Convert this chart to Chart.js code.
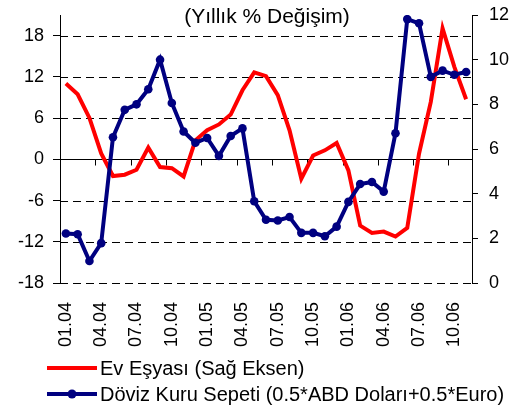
<!DOCTYPE html>
<html>
<head>
<meta charset="utf-8">
<script src="https://cdn.jsdelivr.net/npm/chart.js@4"></script>
<style>
  html, body { margin: 0; padding: 0; background: #fff; }
  #wrap { width: 524px; height: 410px; position: relative; }
</style>
</head>
<body>
<div id="wrap"><canvas id="c" width="524" height="410"></canvas></div>
<script>
const months = ["01.04","02.04","03.04","04.04","05.04","06.04","07.04","08.04","09.04","10.04","11.04","12.04",
                "01.05","02.05","03.05","04.05","05.05","06.05","07.05","08.05","09.05","10.05","11.05","12.05",
                "01.06","02.06","03.06","04.06","05.06","06.06","07.06","08.06","09.06","10.06","11.06"];
const evEsyasi = [8.93, 8.45, 7.39, 5.8, 4.79, 4.85, 5.07, 6.06, 5.19, 5.14, 4.77, 6.39,
                  6.84, 7.1, 7.54, 8.63, 9.43, 9.26, 8.41, 6.84, 4.67, 5.71, 5.94, 6.27,
                  5.04, 2.57, 2.24, 2.30, 2.08, 2.47, 5.79, 8.11, 11.4, 9.68, 8.23];
const dovizSepeti = [-10.8, -10.9, -14.8, -12.2, 3.2, 7.2, 8.0, 10.2, 14.5, 8.2, 4.05, 2.4,
                     3.1, 0.5, 3.4, 4.5, -6.1, -8.8, -8.9, -8.4, -10.7, -10.7, -11.2, -9.8,
                     -6.2, -3.6, -3.3, -4.7, 3.8, 20.4, 19.8, 12.0, 12.9, 12.3, 12.7];
const leftTicks = [-18, -12, -6, 0, 6, 12, 18];
const rightTicks = [0, 2, 4, 6, 8, 10, 12];
const seriesNames = ["Ev Eşyası (Sağ Eksen)", "Döviz Kuru Sepeti (0.5*ABD Doları+0.5*Euro)"];
const titleText = "(Yıllık % Değişim)";

const FONT = '"Liberation Sans", Arial, sans-serif';
const RED = '#FF0000';
const NAVY = '#000080';

const decor = {
  id: 'decor',
  beforeDatasetsDraw(chart) {
    const ctx = chart.ctx, ca = chart.chartArea;
    const y = chart.scales.y, x = chart.scales.x;
    ctx.save();
    ctx.lineWidth = 1;
    ctx.strokeStyle = '#000';
    leftTicks.forEach(v => {
      const py = Math.round(y.getPixelForValue(v)) + 0.5;
      ctx.setLineDash(v === 0 ? [] : [8, 5]);
      ctx.beginPath();
      ctx.moveTo(ca.left, py);
      ctx.lineTo(ca.right, py);
      ctx.stroke();
    });
    ctx.setLineDash([]);
    const y0 = Math.round(y.getPixelForValue(0)) + 0.5;
    const half = (x.getPixelForValue(1) - x.getPixelForValue(0)) / 2;
    for (let i = 0; i < months.length; i += 3) {
      const px = Math.round(x.getPixelForValue(i) - half) + 0.5;
      ctx.beginPath();
      ctx.moveTo(px, y0);
      ctx.lineTo(px, y0 + 6);
      ctx.stroke();
    }
    ctx.restore();
  },
  afterDraw(chart) {
    const ctx = chart.ctx;
    ctx.save();
    ctx.fillStyle = '#000';
    ctx.font = '21px ' + FONT;
    ctx.textAlign = 'center';
    ctx.textBaseline = 'middle';
    ctx.fillText(titleText, 267, 17);
    // legend
    ctx.textAlign = 'left';
    ctx.font = '20px ' + FONT;
    const rows = [368, 394];
    const cols = [RED, NAVY];
    rows.forEach((ry, i) => {
      ctx.strokeStyle = cols[i];
      ctx.lineWidth = 4;
      ctx.beginPath();
      ctx.moveTo(47, ry);
      ctx.lineTo(97, ry);
      ctx.stroke();
      if (i === 1) {
        ctx.fillStyle = NAVY;
        ctx.beginPath();
        ctx.arc(72, ry, 4.5, 0, Math.PI * 2);
        ctx.fill();
      }
      ctx.fillStyle = '#000';
      ctx.fillText(seriesNames[i], 100, ry + 1);
    });
    ctx.restore();
  }
};

function fitY(width) {
  return s => { s.width = width; s.paddingTop = 0; s.paddingBottom = 0; };
}

new Chart(document.getElementById('c'), {
  type: 'line',
  data: {
    labels: months,
    datasets: [
      { label: seriesNames[0], data: evEsyasi, yAxisID: 'y2', borderColor: RED, backgroundColor: RED,
        borderWidth: 4, pointRadius: 0, tension: 0, order: 1 },
      { label: seriesNames[1], data: dovizSepeti, yAxisID: 'y', borderColor: NAVY, backgroundColor: NAVY,
        borderWidth: 4, pointRadius: 4.3, pointBorderWidth: 0, pointBackgroundColor: NAVY, tension: 0, order: 0 }
    ]
  },
  options: {
    responsive: false,
    animation: false,
    devicePixelRatio: 1,
    layout: { padding: { top: 15, bottom: 57, left: 0, right: 0 } },
    plugins: { legend: { display: false }, title: { display: false }, tooltip: { enabled: false } },
    scales: {
      x: {
        type: 'category',
        offset: true,
        grid: { display: false, drawTicks: false },
        border: { display: false },
        ticks: {
          autoSkip: false, maxRotation: 90, minRotation: 90, padding: 19,
          color: '#000', font: { family: FONT, size: 18 },
          callback: function(val, idx) { return idx % 3 === 0 ? months[idx] : ''; }
        },
        afterFit: s => { s.height = 70; }
      },
      y: {
        position: 'left',
        min: -18, max: 21,
        afterBuildTicks: s => { s.ticks = leftTicks.map(v => ({ value: v })); },
        grid: { drawOnChartArea: false, drawTicks: true, tickLength: 7, color: '#000' },
        border: { display: true, color: '#000', width: 1 },
        ticks: { padding: 9, color: '#000', font: { family: FONT, size: 18 } },
        afterFit: fitY(60)
      },
      y2: {
        position: 'right',
        min: 0, max: 12,
        afterBuildTicks: s => { s.ticks = rightTicks.map(v => ({ value: v })); },
        grid: { drawOnChartArea: false, drawTicks: true, tickLength: 6, color: '#000' },
        border: { display: true, color: '#000', width: 1 },
        ticks: { padding: 11, color: '#000', font: { family: FONT, size: 18 } },
        afterFit: fitY(52)
      }
    }
  },
  plugins: [decor]
});
</script>
</body>
</html>
